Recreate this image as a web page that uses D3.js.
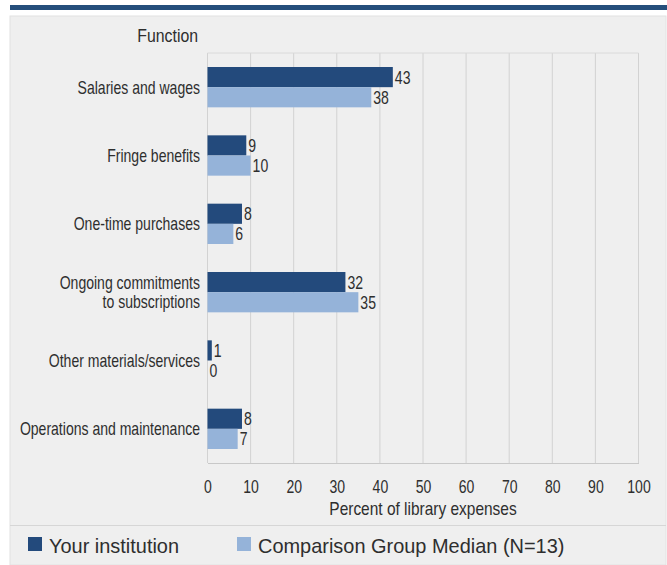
<!DOCTYPE html>
<html><head><meta charset="utf-8">
<script src="https://cdn.jsdelivr.net/npm/d3@7"></script>
<style>
html,body{margin:0;padding:0;background:#fff;}
svg{display:block;font-family:"Liberation Sans",Arial,sans-serif;}
</style></head>
<body>
<svg id="chart" width="667" height="565"></svg>
<script>
const categories = [
  ["Salaries and wages"],
  ["Fringe benefits"],
  ["One-time purchases"],
  ["Ongoing commitments", "to subscriptions"],
  ["Other materials/services"],
  ["Operations and maintenance"]
];
const yourInstitution = [43, 9, 8, 32, 1, 8];
const comparisonMedian = [38, 10, 6, 35, 0, 7];
const seriesNames = ["Your institution", "Comparison Group Median (N=13)"];
const xTicks = [0,10,20,30,40,50,60,70,80,90,100];
const axisTitle = "Percent of library expenses";
const yTitle = "Function";

const colors = ["#234a7c", "#95b3d9"];
const textColor = "#2e2e2e";
const svg = d3.select("#chart");

function label(xp, yp, txt, size, sx, anchor){
  return svg.append("text")
    .attr("transform", `translate(${xp},${yp}) scale(${sx},1)`)
    .attr("text-anchor", anchor || "start")
    .attr("font-size", size).attr("fill", textColor).text(txt);
}

// top band and panel
svg.append("rect").attr("x",10).attr("y",5).attr("width",657).attr("height",5).attr("fill","#254e7b");
svg.append("rect").attr("x",10).attr("y",16).attr("width",656).attr("height",549).attr("fill","#efefef")
  .attr("stroke","#e2e2e2").attr("stroke-width",1);

const m = {left:207.5, right:638.5, top:53, bottom:463};
const x = d3.scaleLinear().domain([0,100]).range([m.left, m.right]);
const idx = categories.map((d,i)=>i);
const y = d3.scaleBand().domain(idx).range([m.top, m.bottom]).paddingInner(0.41).paddingOuter(0.205);
const sub = d3.scaleBand().domain([0,1]).range([0, y.bandwidth()]);

// gridlines
const g = svg.append("g");
g.selectAll("line.grid").data(xTicks).join("line")
  .attr("x1",d=>x(d)).attr("x2",d=>x(d)).attr("y1",m.top).attr("y2",m.bottom)
  .attr("stroke","#d2d2d2").attr("stroke-width",1);
g.append("line").attr("x1",m.left).attr("x2",m.right).attr("y1",m.top).attr("y2",m.top).attr("stroke","#dadada");

// x axis
const xAxis = d3.axisBottom(x).tickValues(xTicks).tickSize(0).tickPadding(17);
const ax = svg.append("g").attr("transform",`translate(0,${m.bottom})`).call(xAxis);
ax.select(".domain").attr("stroke","#c8c8c8");
ax.selectAll("text").attr("font-size",18).attr("fill",textColor)
  .attr("font-family","Liberation Sans, Arial, sans-serif")
  .attr("transform","scale(0.78,1)");

label((m.left+m.right)/2, 515, axisTitle, 18, 0.86, "middle");
label(198, 42, yTitle, 18, 0.88, "end");

// category labels
categories.forEach((lines,i)=>{
  const cy = y(i) + y.bandwidth()/2;
  const lh = 19;
  const t = svg.append("text").attr("text-anchor","end").attr("font-size",18).attr("fill",textColor)
    .attr("transform",`translate(200,${cy}) scale(0.78,1)`);
  lines.forEach((ln,j)=>{
    t.append("tspan").attr("x",0).attr("y", 6.5 + (j - (lines.length-1)/2)*lh).text(ln);
  });
});

// bars
const series = [yourInstitution, comparisonMedian];
series.forEach((vals,s)=>{
  svg.append("g").selectAll("rect").data(vals).join("rect")
    .attr("x",x(0)).attr("y",(d,i)=>y(i)+sub(s))
    .attr("width",d=>x(d)-x(0)).attr("height",sub.bandwidth())
    .attr("fill",colors[s]);
  svg.append("g").selectAll("text").data(vals).join("text")
    .attr("transform",(d,i)=>`translate(${x(d)+2},${y(i)+sub(s)+sub.bandwidth()/2+6.5}) scale(0.78,1)`)
    .attr("font-size",18).attr("fill",textColor).text(d=>d);
});

// legend separator
svg.append("line").attr("x1",10).attr("x2",666).attr("y1",525.5).attr("y2",525.5).attr("stroke","#d6d6d6");

const legX = [28, 237];
seriesNames.forEach((n,i)=>{
  svg.append("rect").attr("x",legX[i]).attr("y",537).attr("width",14).attr("height",14).attr("fill",colors[i]);
  label(legX[i]+21, 553, n, 21, 0.95, "start");
});
</script>
</body></html>
